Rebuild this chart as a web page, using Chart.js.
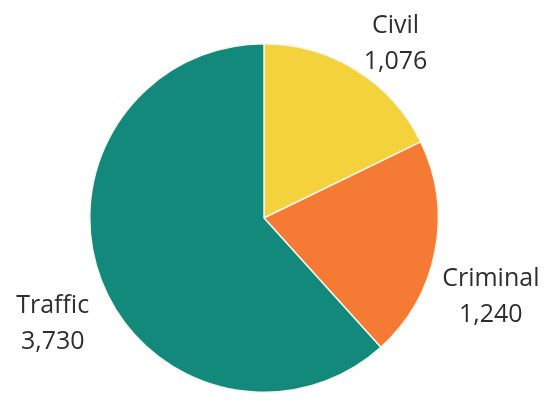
<!DOCTYPE html>
<html>
<head>
<meta charset="utf-8">
<script src="https://cdn.jsdelivr.net/npm/chart.js@4/dist/chart.umd.min.js"></script>
<style>
  html, body { margin: 0; padding: 0; background: #fff; }
  #wrap { width: 549px; height: 400px; }
</style>
</head>
<body>
<div id="wrap"><canvas id="pieChart"></canvas></div>
<script>
  var categories = ["Civil", "Criminal", "Traffic"];
  var caseCounts = [1076, 1240, 3730];
  var sliceColors = ["#f3d23b", "#f57a33", "#12897a"];

  // label nudges (dx, dy) from the default spot just outside each slice
  var labelNudges = [[16, 11], [13, 37], [-8, 28]];

  var outsideLabels = {
    id: "outsideLabels",
    afterDatasetsDraw(chart) {
      const ctx = chart.ctx;
      const meta = chart.getDatasetMeta(0);
      ctx.save();
      ctx.font = "25px 'Open Sans'";
      ctx.fillStyle = "#2e2e2e";
      ctx.textAlign = "center";
      ctx.textBaseline = "middle";
      meta.data.forEach((arc, i) => {
        const props = arc.getProps(["x", "y", "startAngle", "endAngle", "outerRadius"], true);
        const mid = (props.startAngle + props.endAngle) / 2;
        const dist = props.outerRadius * 1.25;
        const x = props.x + Math.cos(mid) * dist + labelNudges[i][0];
        const y = props.y + Math.sin(mid) * dist + labelNudges[i][1];
        ctx.fillText(categories[i], x, y - 18);
        ctx.fillText(caseCounts[i].toLocaleString("en-US"), x, y + 18);
      });
      ctx.restore();
    }
  };

  new Chart(document.getElementById("pieChart"), {
    type: "pie",
    data: {
      labels: categories,
      datasets: [{
        data: caseCounts,
        backgroundColor: sliceColors,
        borderColor: "#f4f6ea",
        borderWidth: 1.5
      }]
    },
    options: {
      responsive: true,
      maintainAspectRatio: false,
      animation: false,
      layout: { padding: { top: 43, bottom: 7, left: 0, right: 21 } },
      plugins: {
        legend: { display: false },
        tooltip: { enabled: false }
      }
    },
    plugins: [outsideLabels]
  });
</script>
</body>
</html>
